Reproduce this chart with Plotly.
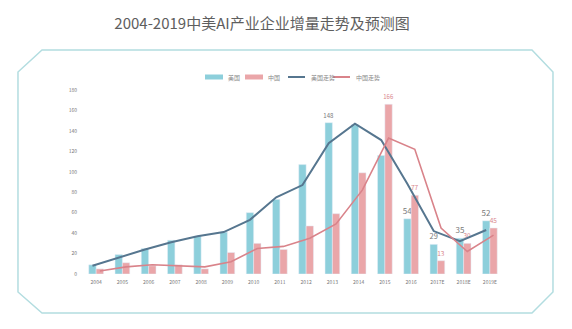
import plotly.graph_objects as go
import numpy as np

years = ["2004", "2005", "2006", "2007", "2008", "2009", "2010", "2011", "2012",
         "2013", "2014", "2015", "2016", "2017E", "2018E", "2019E"]
us_bars = [9, 19, 25, 33, 37, 41, 60, 73, 107, 148, 146, 116, 54, 29, 35, 52]
cn_bars = [5, 11, 8, 9, 5, 21, 30, 24, 47, 59, 99, 166, 77, 13, 30, 45]
us_trend = [8, 16, 24, 31, 37, 41, 53, 75, 87, 128, 147, 131, 88, 42, 32, 43]
cn_trend = [3, 7, 9, 8, 7, 12, 25, 27, 35, 49, 82, 133, 122, 45, 22, 38]
us_labelled = ["2013", "2016", "2017E", "2018E", "2019E"]
cn_labelled = ["2015", "2016", "2017E", "2018E", "2019E"]
y_ticks = [0, 20, 40, 60, 80, 100, 120, 140, 160, 180]

C_US = "#8dcfdb"
C_CN = "#eaa6a9"
C_US_LINE = "#56768f"
C_CN_LINE = "#d9838a"
C_FRAME = "#b3dde0"

W, H = 572, 329
L, R, T, B = 83, 69, 90, 55
PW, PH = W - L - R, H - T - B


def px(x):
    return (x - L) / PW


def py(y):
    return (H - B - y) / PH


idx = np.arange(len(years))
off = 0.14
us_text = [str(v) if y in us_labelled else "" for y, v in zip(years, us_bars)]
cn_text = [str(v) if y in cn_labelled else "" for y, v in zip(years, cn_bars)]
us_size = {"2013": 6, "2016": 8, "2017E": 7.5, "2018E": 8, "2019E": 8}
cn_size = {"2015": 6, "2016": 6.5, "2017E": 6.5, "2018E": 6.5, "2019E": 6.5}
us_sizes = [us_size.get(y, 7) for y in years]
cn_sizes = [cn_size.get(y, 7) for y in years]
us_colors = ["#777777" if y != "2013" and y != "2016" else "#888888" for y in years]

fig = go.Figure()
fig.add_trace(go.Bar(x=idx, y=us_bars, name="美国", marker_color=C_US,
                     text=us_text, textposition="outside", constraintext="none",
                     textfont=dict(size=us_sizes, color="#7a7a7a"), cliponaxis=False))
fig.add_trace(go.Bar(x=idx, y=cn_bars, name="中国", marker_color=C_CN,
                     text=cn_text, textposition="outside", constraintext="none",
                     textfont=dict(size=cn_sizes, color="#d9868c"), cliponaxis=False))
fig.add_trace(go.Scatter(x=idx - off, y=us_trend, name="美国走势", mode="lines",
                         line=dict(color=C_US_LINE, width=2), cliponaxis=False))
fig.add_trace(go.Scatter(x=idx + off, y=cn_trend, name="中国走势", mode="lines",
                         line=dict(color=C_CN_LINE, width=1.6), cliponaxis=False))

shapes = []
# octagonal frame
pts = [(42, 50), (532, 50), (553, 72), (553, 292), (532, 313), (42, 313), (18, 292), (18, 72)]
path = "M " + " L ".join(f"{px(a):.4f},{py(b):.4f}" for a, b in pts) + " Z"
shapes.append(dict(type="path", xref="paper", yref="paper", path=path,
                   line=dict(color=C_FRAME, width=1.5), layer="below"))

# custom legend
legend_y = 77
items = [("rect", C_US, "美国", 205), ("rect", C_CN, "中国", 245),
         ("line", C_US_LINE, "美国走势", 288), ("line", C_CN_LINE, "中国走势", 333)]
annotations = []
for kind, col, label, x0 in items:
    if kind == "rect":
        shapes.append(dict(type="rect", xref="paper", yref="paper",
                           x0=px(x0), x1=px(x0 + 18), y0=py(legend_y + 2.5), y1=py(legend_y - 2.5),
                           fillcolor=col, line=dict(width=0)))
    else:
        shapes.append(dict(type="line", xref="paper", yref="paper",
                           x0=px(x0), x1=px(x0 + 17), y0=py(legend_y), y1=py(legend_y),
                           line=dict(color=col, width=2)))
    annotations.append(dict(xref="paper", yref="paper", x=px(x0 + 21), y=py(legend_y),
                            text=label, showarrow=False, xanchor="left", yanchor="middle",
                            font=dict(size=6, color="#888888")))

fig.update_layout(
    width=W, height=H,
    margin=dict(l=L, r=R, t=T, b=B),
    paper_bgcolor="white", plot_bgcolor="white",
    barmode="group", bargap=0.44, bargroupgap=0,
    showlegend=False,
    font=dict(family="Noto Sans CJK SC, Noto Sans, sans-serif"),
    title=dict(text="2004-2019中美AI产业企业增量走势及预测图", x=262 / W, xanchor="center",
               xref="container", y=1 - 24 / H, yanchor="middle", yref="container",
               font=dict(size=15, color="#5e5e5e")),
    xaxis=dict(range=[-0.5, len(years) - 0.5], tickmode="array", tickvals=idx, ticktext=years,
               showgrid=False, zeroline=False, showline=False, ticks="",
               tickfont=dict(size=5, color="#777777"), ticklabelstandoff=4),
    yaxis=dict(range=[0, 180], tickmode="array", tickvals=y_ticks,
               showgrid=False, zeroline=False, showline=False, ticks="",
               tickfont=dict(size=5, color="#777777"), ticklabelstandoff=5),
    shapes=shapes,
    annotations=annotations,
)

fig.write_html("out.html")
